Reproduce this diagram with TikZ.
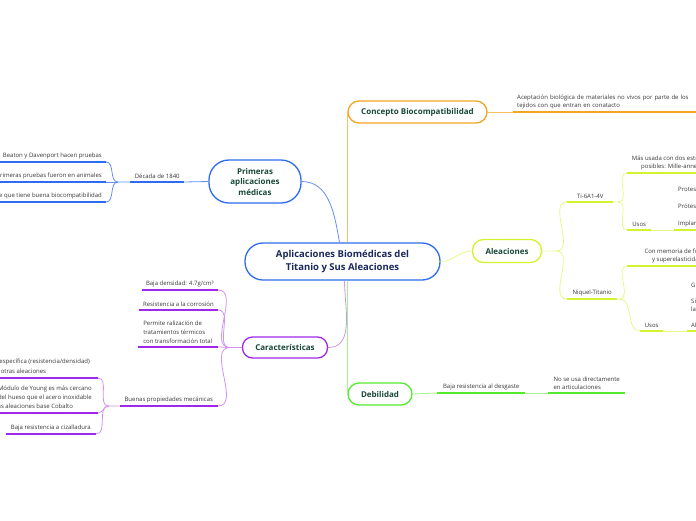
\documentclass[tikz,border=0pt]{standalone}
\usepackage{fontspec}
\setmainfont{Open Sans}
\usetikzlibrary{positioning}
\definecolor{bluebr}{RGB}{47,107,240}
\definecolor{orangebr}{RGB}{245,165,35}
\definecolor{limebr}{RGB}{212,243,45}
\definecolor{purplebr}{RGB}{160,40,235}
\definecolor{greenbr}{RGB}{85,235,45}
\definecolor{titlegreen}{RGB}{24,72,58}
\definecolor{titlenavy}{RGB}{26,40,92}
\definecolor{leaftext}{RGB}{55,55,55}
\tikzset{
  box/.style={draw,fill=white,line width=1.3pt,inner sep=0pt,align=center,
    font=\bfseries\fontsize{8}{10.5}\selectfont,text=titlegreen},
  leaf/.style={inner xsep=4pt,inner ysep=3pt,text=leaftext,
    font=\fontsize{6}{9}\selectfont},
  bthin/.style={bluebr!75,line width=0.8pt},
  othin/.style={orangebr!70,line width=0.8pt},
  lthin/.style={limebr!55,line width=0.8pt},
  pthin/.style={purplebr!50,line width=0.8pt},
  gthin/.style={greenbr!55,line width=0.8pt},
  uline/.style={line width=1.8pt}
}
\begin{document}
\begin{tikzpicture}[x=1pt,y=-1pt]
  \useasboundingbox (0,0) rectangle (696,520);
  \clip (0,0) rectangle (696,520);
  % main boxes
  \node[box,draw=bluebr,rounded corners=18pt,minimum width=195pt,minimum height=37pt,
    font=\bfseries\fontsize{9.5}{13}\selectfont,text=titlenavy] (cen) at (342.5,261.5)
    {Aplicaciones Biomédicas del\\Titanio y Sus Aleaciones};
  \node[box,draw=bluebr,rounded corners=20pt,minimum width=92pt,minimum height=43pt] (prim) at (255,181.5)
    {Primeras\\aplicaciones\\médicas};
  \node[box,draw=orangebr,rounded corners=11pt,minimum width=139pt,minimum height=22pt] (con) at (417.5,112)
    {Concepto Biocompatibilidad};
  \node[box,draw=limebr,rounded corners=11pt,minimum width=69pt,minimum height=23pt] (ale) at (507,251)
    {Aleaciones};
  \node[box,draw=purplebr,rounded corners=10pt,minimum width=85pt,minimum height=21pt] (car) at (285,347.5)
    {Características};
  \node[box,draw=greenbr,rounded corners=11pt,minimum width=64pt,minimum height=22pt] (deb) at (380,394)
    {Debilidad};

  % primeras aplicaciones
  \node[leaf,anchor=south west,minimum width=54pt] (dec) at (130,182) {Década de 1840};
  \node[leaf,anchor=south east] (bea) at (106,162) {Beaton y Davenport hacen pruebas};
  \node[leaf,anchor=south east] (ani) at (106,182) {Primeras pruebas fueron en animales};
  \node[leaf,anchor=south east] (bio) at (106,202) {Se descubre que tiene buena biocompatibilidad};
  \coordinate (decb) at ([xshift=-12pt]dec.south west);

  % concepto
  \node[leaf,anchor=south west,align=left,text width=185pt] (ace) at (513,112)
    {Aceptación biológica de materiales no vivos por parte de los\\[-1pt]tejidos con que entran en conatacto};

  % aleaciones
  \node[leaf,anchor=south west,minimum width=46pt] (ti) at (567,202) {Ti-6A1-4V};
  \node[leaf,anchor=south west,minimum width=50pt] (niq) at (567,299) {Niquel-Titanio};
  \node[leaf,anchor=south west,align=center,minimum width=96pt] (mas) at (627,173)
    {Más usada con dos estructuras\\[-1pt]posibles: Mille-annealed};
  \node[leaf,anchor=south west,minimum width=24pt] (usti) at (627,230) {Usos};
  \node[leaf,anchor=south west,align=left] (apti) at (674,230)
    {Protesis de rodilla\\[8pt]Prótesis de cadera\\[8pt]Implantes dentales};
  \node[leaf,anchor=south west,align=center,minimum width=100pt] (mem) at (627,266)
    {Con memoria de forma\\[-1pt]y superelasticidad};
  \node[leaf,anchor=south west,minimum width=23pt] (usni) at (640,331) {Usos};
  \node[leaf,anchor=south west,align=left] (apni) at (687,331)
    {Guías de alambre\\[7pt]Sistemas de fijación\\[-1pt]la columna\\[7pt]Alambres de ortodoncia};
  \coordinate (aleb) at ([xshift=14pt]ale.east);
  \coordinate (tib) at ([xshift=5pt]ti.south east);
  \coordinate (nib) at ([xshift=2pt]niq.south east);

  % caracteristicas
  \node[leaf,anchor=south east,minimum width=76pt] (den) at (218,290) {Baja densidad: 4.7g/cm³};
  \node[leaf,anchor=south east,minimum width=76pt] (cor) at (218,310) {Resistencia a la corrosión};
  \node[leaf,anchor=south east,align=left,minimum width=80pt] (ter) at (218,347)
    {Permite ralización de\\tratamientos térmicos\\con transformación total};
  \node[leaf,anchor=south east,minimum width=98pt] (mec) at (218,406) {Buenas propiedades mecánicas};
  \node[leaf,anchor=south east,align=left,inner xsep=8pt] (esp) at (98,378)
    {Alta resistencia específica (resistencia/densidad)\\[1pt]comparada con otras aleaciones};
  \node[leaf,anchor=south east,align=left,inner xsep=6pt] (you) at (98,413)
    {El Módulo de Young es más cercano\\al del hueso que el acero inoxidable\\y las aleaciones base Cobalto};
  \node[leaf,anchor=south east,inner xsep=5pt] (ciz) at (96,434) {Baja resistencia a cizalladura};
  \coordinate (carb) at ([xshift=-12pt]car.west);
  \coordinate (mecb) at ([xshift=-11pt]mec.south west);

  % debilidad
  \node[leaf,anchor=south west,minimum width=88pt] (des) at (437,393) {Baja resistencia al desgaste};
  \node[leaf,anchor=south west,align=left,minimum width=77pt] (art) at (548,393)
    {No se usa directamente\\[-1pt]en articulaciones};

  % connectors
  \draw[bthin] (prim.east) to[out=0,in=100] ([xshift=-3pt]cen.north);
  \draw[bthin] (prim.west) -- (dec.south east);
  \draw[bthin] (dec.south west) -- (decb) to[out=180,in=0] (bea.south east);
  \draw[bthin] (decb) -- (ani.south east);
  \draw[bthin] (decb) to[out=180,in=0] (bio.south east);

  \draw[othin] (cen.north -| con.west) -- (con.west);
  \draw[othin] (con.east) -- (ace.south west);

  \draw[lthin] (cen.east) to[out=0,in=180] (ale.west);
  \draw[lthin] (ale.east) -- (aleb) to[out=0,in=180] (ti.south west);
  \draw[lthin] (aleb) to[out=0,in=180] (niq.south west);
  \draw[lthin] (ti.south east) -- (tib) to[out=0,in=180] (mas.south west);
  \draw[lthin] (tib) to[out=0,in=180] (usti.south west);
  \draw[lthin] (usti.south east) -- (apti.south west);
  \draw[lthin] (niq.south east) -- (nib) to[out=0,in=180] (mem.south west);
  \draw[lthin] (nib) to[out=0,in=180] (usni.south west);
  \draw[lthin] (usni.south east) -- (apni.south west);

  \draw[pthin] ([xshift=2pt]cen.south) to[out=-90,in=0] (car.east);
  \draw[pthin] (car.west) -- (carb) to[out=180,in=0] (den.south east);
  \draw[pthin] (carb) to[out=180,in=0] (cor.south east);
  \draw[pthin] (carb) to[out=180,in=0] (ter.south east);
  \draw[pthin] (carb) to[out=180,in=0] (mec.south east);
  \draw[pthin] (mec.south west) -- (mecb) to[out=180,in=0] (esp.south east);
  \draw[pthin] (mecb) to[out=180,in=0] (you.south east);
  \draw[pthin] (mecb) to[out=180,in=0] (ciz.south east);

  \draw[gthin] (cen.south -| deb.west) -- (deb.west);
  \draw[gthin] (deb.east) -- (des.south west);
  \draw[gthin] (des.south east) -- (art.south west);

  % underlines
  \draw[uline,bluebr] (dec.south west) -- (dec.south east);
  \draw[uline,bluebr] (bea.south west) -- (bea.south east);
  \draw[uline,bluebr] (ani.south west) -- (ani.south east);
  \draw[uline,bluebr] (bio.south west) -- (bio.south east);
  \draw[uline,orangebr] (ace.south west) -- (ace.south east);
  \draw[uline,limebr] (ti.south west) -- (ti.south east);
  \draw[uline,limebr] (niq.south west) -- (niq.south east);
  \draw[uline,limebr] (mas.south west) -- (mas.south east);
  \draw[uline,limebr] (usti.south west) -- (usti.south east);
  \draw[uline,limebr] (apti.south west) -- (apti.south east);
  \draw[uline,limebr] (mem.south west) -- (mem.south east);
  \draw[uline,limebr] (usni.south west) -- (usni.south east);
  \draw[uline,limebr] (apni.south west) -- (apni.south east);
  \draw[uline,purplebr] (den.south west) -- (den.south east);
  \draw[uline,purplebr] (cor.south west) -- (cor.south east);
  \draw[uline,purplebr] (ter.south west) -- (ter.south east);
  \draw[uline,purplebr] (mec.south west) -- (mec.south east);
  \draw[uline,purplebr] (esp.south west) -- (esp.south east);
  \draw[uline,purplebr] (you.south west) -- (you.south east);
  \draw[uline,purplebr] (ciz.south west) -- (ciz.south east);
  \draw[uline,greenbr] (des.south west) -- (des.south east);
  \draw[uline,greenbr] (art.south west) -- (art.south east);
\end{tikzpicture}
\end{document}
